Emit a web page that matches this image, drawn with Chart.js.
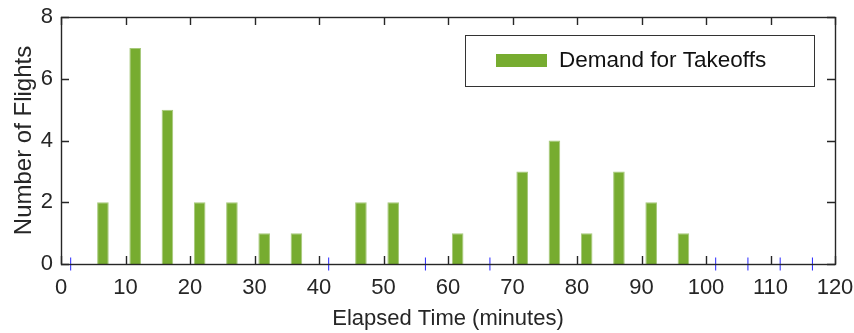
<!DOCTYPE html>
<html>
<head>
<meta charset="utf-8">
<script src="https://cdn.jsdelivr.net/npm/chart.js@4.4.1/dist/chart.umd.min.js"></script>
<style>
  html, body { margin: 0; padding: 0; background: #fff; }
  #wrap { width: 854px; height: 333px; }
</style>
</head>
<body>
<div id="wrap"><canvas id="c" width="854" height="333"></canvas></div>
<script>
// Histograma: demanda de decolagens por intervalo de 5 minutos
const binCenters = [1.5, 6.5, 11.5, 16.5, 21.5, 26.5, 31.5, 36.5, 41.5, 46.5, 51.5, 56.5,
  61.5, 66.5, 71.5, 76.5, 81.5, 86.5, 91.5, 96.5, 101.5, 106.5, 111.5, 116.5];
const takeoffs = [0, 2, 7, 5, 2, 2, 1, 1, 0, 2, 2, 0,
  1, 0, 3, 4, 1, 3, 2, 1, 0, 0, 0, 0];
const xTicks = [0, 10, 20, 30, 40, 50, 60, 70, 80, 90, 100, 110, 120];
const yTicks = [0, 2, 4, 6, 8];
const seriesLabel = 'Demand for Takeoffs';

const TXT = '#262626';
const GREEN = '#77ac30';
const FONT = "'Liberation Sans', Arial, sans-serif";

Chart.defaults.font.family = FONT;
Chart.defaults.font.size = 22;
Chart.defaults.color = TXT;

// moldura + ticks para dentro, estilo MATLAB
const frame = {
  id: 'frame',
  afterDraw(chart) {
    const { ctx, chartArea: a, scales } = chart;
    const L = 8;
    ctx.save();
    ctx.strokeStyle = TXT;
    ctx.lineWidth = 1.4;
    ctx.beginPath();
    xTicks.forEach((v) => {
      const px = Math.round(scales.x.getPixelForValue(v)) + 0.5;
      ctx.moveTo(px, a.bottom); ctx.lineTo(px, a.bottom - L);
      ctx.moveTo(px, a.top); ctx.lineTo(px, a.top + L);
    });
    yTicks.forEach((v) => {
      const py = Math.round(scales.y.getPixelForValue(v)) + 0.5;
      ctx.moveTo(a.left, py); ctx.lineTo(a.left + L, py);
      ctx.moveTo(a.right, py); ctx.lineTo(a.right - L, py);
    });
    ctx.stroke();
    ctx.strokeRect(Math.round(a.left) + 0.5, Math.round(a.top) + 0.5,
      Math.round(a.right - a.left), Math.round(a.bottom - a.top));
    ctx.restore();
  },
};

// legenda dentro do eixo (canto superior direito), com caixa
const boxLegend = {
  id: 'boxLegend',
  afterDraw(chart) {
    const { ctx, chartArea: a } = chart;
    const w = 349, h = 51;
    const x = a.right - 21 - w, y = a.top + 18;
    ctx.save();
    ctx.fillStyle = '#fff';
    ctx.fillRect(x, y, w, h);
    ctx.strokeStyle = '#333';
    ctx.lineWidth = 1;
    ctx.strokeRect(x + 0.5, y + 0.5, w, h);
    ctx.fillStyle = GREEN;
    ctx.fillRect(x + 31, y + 19, 51, 13);
    ctx.fillStyle = '#111';
    ctx.font = `22.5px ${FONT}`;
    ctx.textBaseline = 'middle';
    ctx.fillText(chart.data.datasets[0].label, x + 94, y + 26);
    ctx.restore();
  },
};

new Chart(document.getElementById('c'), {
  type: 'bar',
  data: {
    datasets: [
      {
        label: seriesLabel,
        data: binCenters.map((x, i) => ({ x, y: takeoffs[i] })),
        backgroundColor: GREEN,
        borderColor: '#a6c97a',
        borderWidth: 1,
        barPercentage: 0.36,
        categoryPercentage: 1,
        order: 2,
      },
      {
        type: 'scatter',
        label: 'zero',
        data: binCenters.map((x, i) => ({ x, y: takeoffs[i] })).filter((p) => p.y === 0),
        pointStyle: 'line',
        rotation: 90,
        radius: 6.5,
        borderColor: '#2626ff',
        borderWidth: 1,
        clip: false,
        order: 1,
      },
    ],
  },
  options: {
    responsive: false,
    animation: false,
    layout: { padding: { left: 0, right: 19, top: 17, bottom: 0 } },
    plugins: { legend: { display: false }, tooltip: { enabled: false } },
    scales: {
      x: {
        type: 'linear', min: 0, max: 120, offset: false,
        afterBuildTicks: (s) => { s.ticks = xTicks.map((v) => ({ value: v })); },
        afterFit: (s) => { s.height = 69; s.paddingLeft = 0; s.paddingRight = 0; },
        ticks: { padding: 11, color: TXT, maxRotation: 0 },
        grid: { display: false, drawTicks: false },
        border: { display: false },
        title: { display: true, text: 'Elapsed Time (minutes)', color: TXT, padding: { top: 2, bottom: 1 } },
      },
      y: {
        min: 0, max: 8,
        afterBuildTicks: (s) => { s.ticks = yTicks.map((v) => ({ value: v })); },
        afterFit: (s) => { s.width = 61; s.paddingTop = 0; s.paddingBottom = 0; },
        ticks: { padding: 8, color: TXT },
        grid: { display: false, drawTicks: false },
        border: { display: false },
        title: {
          display: true, text: 'Number of Flights', color: TXT,
          font: { size: 24 }, padding: { top: 10, bottom: 0 },
        },
      },
    },
  },
  plugins: [frame, boxLegend],
});
</script>
</body>
</html>
